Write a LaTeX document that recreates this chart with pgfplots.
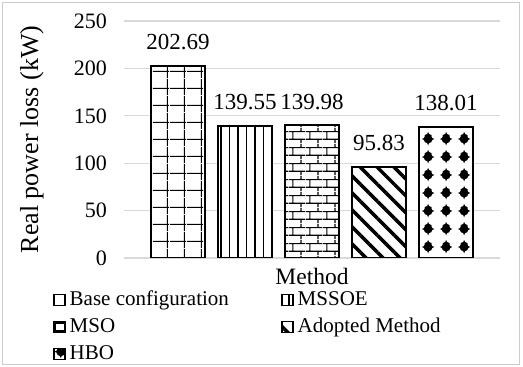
\documentclass[border=0pt]{standalone}
\usepackage{fontspec}
\setmainfont{Liberation Serif}
\usepackage{pgfplots}
\pgfplotsset{compat=1.18}
\usetikzlibrary{patterns,patterns.meta}

\tikzdeclarepattern{
  name=bigGrid,
  type=uncolored,
  bounding box={(0,0) and (17bp,17bp)},
  tile size={(17bp,17bp)},
  code={
    \draw[line width=1.2bp] (0,7bp) -- (17bp,7bp) (15bp,0) -- (15bp,17bp);
  }
}
\tikzdeclarepattern{
  name=bricks,
  type=uncolored,
  bounding box={(0,0) and (17bp,16bp)},
  tile size={(17bp,16bp)},
  code={
    \draw[line width=1.2bp] (0,4bp) -- (17bp,4bp) (0,12bp) -- (17bp,12bp)
      (4bp,4bp) -- (4bp,12bp) (12.5bp,12bp) -- (12.5bp,16bp) (12.5bp,0) -- (12.5bp,4bp);
  }
}
\tikzdeclarepattern{
  name=sparkles,
  type=uncolored,
  bounding box={(0,0) and (17.5bp,17.5bp)},
  tile size={(17.5bp,17.5bp)},
  code={
    \foreach \cy in {15.3bp,-2.2bp}{
      \fill (8.3bp,\cy) circle (4.6bp);
      \fill ([yshift=-6.5bp]8.3bp,\cy) -- ([xshift=2.45bp]8.3bp,\cy) -- ([yshift=6.5bp]8.3bp,\cy) -- ([xshift=-2.45bp]8.3bp,\cy) -- cycle;
      \fill ([xshift=-6.5bp]8.3bp,\cy) -- ([yshift=2.45bp]8.3bp,\cy) -- ([xshift=6.5bp]8.3bp,\cy) -- ([yshift=-2.45bp]8.3bp,\cy) -- cycle;
    }
  }
}

\begin{document}
\begin{tikzpicture}
\path[use as bounding box] (0,0) rectangle (523bp,367bp);
\draw[gray!40, line width=1bp] (2.5bp,2.5bp) rectangle (519bp,364.5bp);
\begin{axis}[
  at={(124bp,109bp)}, anchor=south west,
  scale only axis, width=376bp, height=237bp,
  ymin=0, ymax=250, xmin=-0.806, xmax=4.806,
  ytick={0,50,...,250}, xtick=\empty,
  ymajorgrids, grid style={draw=gray!30, line width=1.2bp},
  axis line style={draw=none},
  major tick length=0pt,
  /pgf/number format/assume math mode=true,
  tick label style={font=\fontsize{22bp}{26bp}\selectfont},
  yticklabel style={inner sep=0pt, xshift=-17bp},
  ylabel={Real power loss (kW)},
  ylabel style={font=\fontsize{26bp}{30bp}\selectfont, at={(axis description cs:-0.245,0.5)}, anchor=center},
  xlabel={Method},
  xlabel style={font=\fontsize{23.5bp}{28bp}\selectfont, at={(axis description cs:0.5,-0.080)}, anchor=center},
  nodes near coords,
  nodes near coords style={font=\fontsize{23bp}{28bp}\selectfont, anchor=south, inner sep=0pt, yshift=15bp, text=black,
    /pgf/number format/.cd, fixed, fixed zerofill, precision=2},
  mybar/.style={ybar, bar width=54bp, bar shift=0pt, draw=black, line width=1.8bp, preaction={fill=white}},
  legend image code/.code={\draw[#1] (0bp,-5.5bp) rectangle (11bp,5.5bp);},
  legend columns=2,
  legend cell align=left,
  legend style={draw=none, fill=none, inner sep=0pt, outer sep=0pt,
    at={(axis description cs:-0.189,-0.131)}, anchor=north west,
    font=\fontsize{21bp}{24bp}\selectfont,
    nodes={inner sep=1bp, text height=15bp, text depth=5bp},
    row sep=5bp, column sep=3bp,
    /tikz/every even column/.append style={column sep=51bp}},
]
\addplot[mybar, pattern=bigGrid, pattern color=black] coordinates {(0,202.69)};
\addlegendentry{Base configuration}
\addplot[mybar, pattern={Lines[angle=90,distance=8.5bp,line width=1.2bp]}, pattern color=black] coordinates {(1,139.55)};
\addlegendentry{MSSOE}
\addplot[mybar, pattern=bricks, pattern color=black] coordinates {(2,139.98)};
\addlegendentry{MSO}
\addplot[mybar, pattern={Lines[angle=-45,distance=12bp,line width=3.5bp]}, pattern color=black] coordinates {(3,95.83)};
\addlegendentry{Adopted Method}
\addplot[mybar, pattern=sparkles, pattern color=black] coordinates {(4,138.01)};
\addlegendentry{HBO}
\end{axis}
\end{tikzpicture}
\end{document}
